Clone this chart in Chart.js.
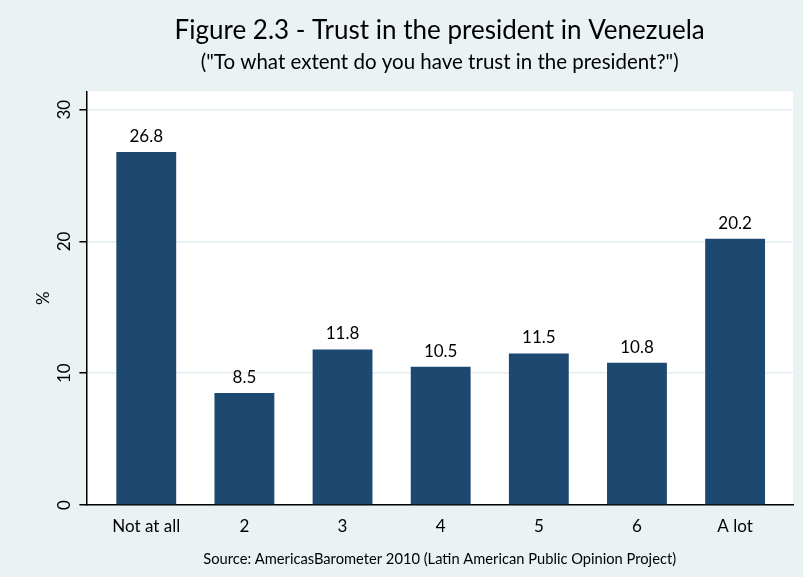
<!DOCTYPE html>
<html>
<head>
<meta charset="utf-8">
<script src="https://cdn.jsdelivr.net/npm/chart.js@4.4.1/dist/chart.umd.min.js"></script>
<style>
  html, body { margin: 0; padding: 0; background: #eaf2f3; }
  #wrap { width: 803px; height: 577px; }
</style>
</head>
<body>
<div id="wrap"><canvas id="trustChart" width="803" height="577"></canvas></div>

<script>
// data
const categories = ['Not at all', '2', '3', '4', '5', '6', 'A lot'];
const percents = [26.8, 8.5, 11.8, 10.5, 11.5, 10.8, 20.2];
const yTicks = [0, 10, 20, 30];

const FONT = "Lato, 'Open Sans', sans-serif";

// background of the whole figure + white plot region
const bgPlugin = {
  id: 'bg',
  beforeDraw(chart) {
    const c = chart.ctx, a = chart.chartArea;
    c.save();
    c.fillStyle = '#eaf2f3';
    c.fillRect(0, 0, chart.width, chart.height);
    c.fillStyle = '#ffffff';
    c.fillRect(a.left, a.top, a.right - a.left, a.bottom - a.top);
    c.restore();
  }
};

// rotated y tick labels, like the original
const yLabelPlugin = {
  id: 'yLabels',
  afterDraw(chart) {
    const c = chart.ctx, y = chart.scales.y;
    c.save();
    c.fillStyle = '#000';
    c.font = '17px ' + FONT;
    c.textAlign = 'center';
    c.textBaseline = 'middle';
    yTicks.forEach(t => {
      c.save();
      c.translate(y.right - 22, y.getPixelForValue(t));
      c.rotate(-Math.PI / 2);
      c.fillText(String(t), 0, 0);
      c.restore();
    });
    c.restore();
  }
};

// value labels above bars
const valuePlugin = {
  id: 'values',
  afterDatasetsDraw(chart) {
    const c = chart.ctx;
    const meta = chart.getDatasetMeta(0);
    c.save();
    c.fillStyle = '#000';
    c.font = '17px ' + FONT;
    c.textAlign = 'center';
    c.textBaseline = 'bottom';
    meta.data.forEach((bar, i) => {
      c.fillText(percents[i].toFixed(1), bar.x, bar.y - 7);
    });
    c.restore();
  }
};

var ctx = document.getElementById('trustChart').getContext('2d');
var trustChart = new Chart(ctx, {
  type: 'bar',
  data: {
    datasets: [{
      data: percents.map((v, i) => ({ x: i + 1, y: v })),
      backgroundColor: '#1d4870',
      borderWidth: 0,
      barPercentage: 0.61,
      categoryPercentage: 1
    }]
  },
  options: {
    responsive: false,
    animation: false,
    layout: { padding: { left: 20, right: 10, top: 0, bottom: 0 } },
    plugins: {
      legend: { display: false },
      tooltip: { enabled: false },
      title: {
        display: true,
        fullSize: false,
        text: 'Figure 2.3 - Trust in the president in Venezuela',
        color: '#000',
        font: { family: FONT, size: 26, weight: 'normal' },
        padding: { top: 15, bottom: 3.5 }
      },
      subtitle: {
        display: true,
        fullSize: false,
        text: '("To what extent do you have trust in the president?")',
        color: '#000',
        font: { family: FONT, size: 20.5, weight: 'normal' },
        padding: { top: 0, bottom: 17 }
      }
    },
    scales: {
      x: {
        type: 'linear',
        offset: false,
        min: 0.39,
        max: 7.59,
        afterBuildTicks: axis => { axis.ticks = categories.map((c, i) => ({ value: i + 1 })); },
        ticks: {
          color: '#000',
          font: { family: FONT, size: 17 },
          padding: 11.5,
          maxRotation: 0,
          callback: v => categories[v - 1]
        },
        grid: { display: false, drawTicks: false },
        border: { color: '#000', width: 1.5 },
        title: {
          display: true,
          text: 'Source: AmericasBarometer 2010 (Latin American Public Opinion Project)',
          color: '#000',
          font: { family: FONT, size: 14.7 },
          padding: { top: 2, bottom: 9 }
        }
      },
      y: {
        min: 0,
        max: 31.4,
        afterBuildTicks: axis => { axis.ticks = yTicks.map(v => ({ value: v })); },
        ticks: { display: false },
        grid: { color: '#e4eef0', lineWidth: 1.5, tickLength: 7, tickColor: '#000', tickWidth: 1.5 },
        border: { color: '#000', width: 1.5 },
        title: {
          display: true,
          text: '%',
          color: '#000',
          font: { family: FONT, size: 17 },
          padding: { top: 13, bottom: 26 }
        }
      }
    }
  },
  plugins: [bgPlugin, yLabelPlugin, valuePlugin]
});
</script>
</body>
</html>
